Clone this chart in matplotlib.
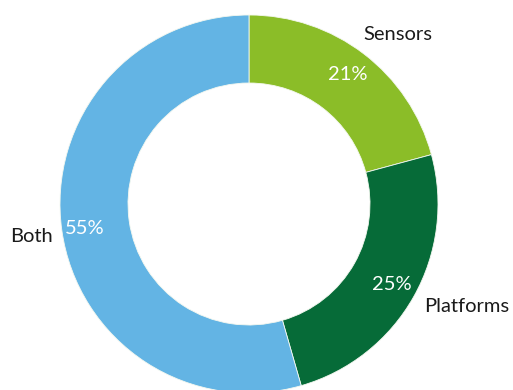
import matplotlib
matplotlib.use("Agg")
import matplotlib.pyplot as plt
import numpy as np

categories = ["Sensors", "Platforms", "Both"]
values = [21, 25, 55]
colors = ["#8BBD28", "#066B38", "#63B4E4"]

W, H = 513, 390
fig = plt.figure(figsize=(W / 100, H / 100), dpi=100)
ax = fig.add_axes([0, 0, 1, 1])
ax.set_xlim(0, W)
ax.set_ylim(0, H)
ax.set_aspect("equal")
ax.axis("off")

cx, cy = 249, H - 204
R, ring = 189, 68

ax.pie(values, colors=colors, startangle=90, counterclock=False,
       center=(cx, cy), radius=R,
       wedgeprops=dict(width=ring, edgecolor="#f4f8f0", linewidth=0.6))
ax.set_xlim(0, W)
ax.set_ylim(0, H)

font = "Lato"
fs = 14.5
# percentage labels inside the ring, category names outside
pct_pos = [(348, 75), (392, 285), (85, 229)]
name_pos = [(398, 35), (467, 307), (32, 237)]
for v, cat, (px, py), (nx, ny) in zip(values, categories, pct_pos, name_pos):
    ax.text(px, H - py, f"{v}%", color="white", fontsize=fs, family=font,
            ha="center", va="center")
    ax.text(nx, H - ny, cat, color="#1a1a1a", fontsize=fs, family=font,
            ha="center", va="center")

fig.savefig("out.png", dpi=100)
